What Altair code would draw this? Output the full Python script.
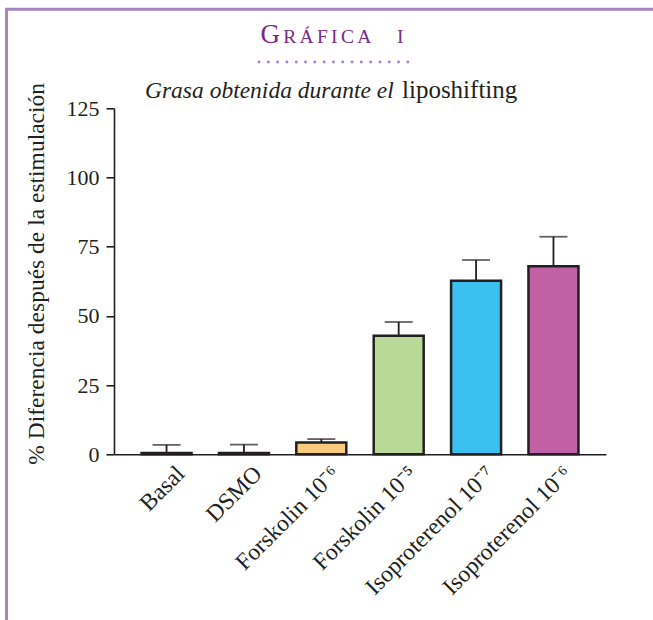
import altair as alt
import pandas as pd

# ---- data ----
categories = ["Basal", "DSMO", "Forskolin 10⁻⁶", "Forskolin 10⁻⁵",
              "Isoproterenol 10⁻⁷", "Isoproterenol 10⁻⁶"]
means = [0.5, 0.5, 4.3, 42.8, 62.7, 67.9]
upper = [3.4, 3.5, 5.5, 47.8, 70.2, 78.6]
bar_colors = ["#FFFFFF", "#FFFFFF", "#F9CB7C", "#B9DA96", "#3AC1EF", "#C160A4"]
y_ticks = [0, 25, 50, 75, 100, 125]

title_letters = ["G", "R", "Á", "F", "I", "C", "A", "I"]
title_x = [260.5, 283.3, 299.6, 317, 331.1, 340.9, 357.2, 397]
title_size = [27, 19.5, 19.5, 19.5, 19.5, 19.5, 19.5, 19.5]

subtitle_italic = "Grasa obtenida durante el"
subtitle_roman = "liposhifting"
y_title = "% Diferencia después de la estimulación"

FONT = "Liberation Serif"
INK = "#231F20"
PURPLE = "#7B2A85"
LILAC = "#A785C2"

# plot-area geometry (pixels in the 653x620 page)
X0, Y0 = 114.0, 108.3
X1, Y1 = 606.0, 454.3
W, H = X1 - X0, Y1 - Y0

df = pd.DataFrame({"cat": categories, "mean": means, "upper": upper})
one = pd.DataFrame({"k": [0]})

xenc = alt.X(
    "cat:N", sort=categories,
    scale=alt.Scale(paddingInner=0.354, paddingOuter=0.356),
    axis=alt.Axis(title=None, ticks=False, labelAngle=-45, labelAlign="right",
                  labelBaseline="top", labelPadding=7, labelOffset=6,
                  labelFontSize=23.5,
                  labelFont=FONT, labelColor=INK, labelOverlap=False, labelLimit=0,
                  domainColor=INK, domainWidth=1.6),
)
yscale = alt.Scale(domain=[0, 125], nice=False)
yaxis = alt.Axis(values=y_ticks, title=y_title, grid=False, tickSize=8, tickWidth=1.6,
                 tickColor=INK, domainColor=INK, domainWidth=1.6, labelFontSize=22,
                 labelFont=FONT, labelColor=INK, labelPadding=7,
                 titleFont=FONT, titleFontSize=23.5, titleFontWeight="normal",
                 titleColor=INK, titleAngle=270, titleX=-71, titleY=165,
                 titleAlign="center", titleBaseline="alphabetic")

err_rule = alt.Chart(df).mark_rule(color=INK, strokeWidth=1.8).encode(
    x=xenc, y=alt.Y("mean:Q", scale=yscale, axis=yaxis), y2="upper:Q")
err_cap = alt.Chart(df).mark_tick(color=INK, thickness=1.8, size=28).encode(
    x=xenc, y=alt.Y("upper:Q", scale=yscale, axis=yaxis))
bars = alt.Chart(df).mark_bar(stroke=INK, strokeWidth=2.5).encode(
    x=xenc, y=alt.Y("mean:Q", scale=yscale, axis=yaxis),
    color=alt.Color("cat:N", scale=alt.Scale(domain=categories, range=bar_colors),
                    legend=None))


def txt(t, x, y, size, color, style="normal", align="left"):
    return alt.Chart(one).mark_text(
        text=t, font=FONT, fontSize=size, color=color, fontStyle=style,
        align=align, baseline="alphabetic").encode(
        x=alt.value(x - X0), y=alt.value(y - Y0))


layers = [err_rule, err_cap, bars]

# frame
layers.append(alt.Chart(one).mark_rule(color=LILAC, strokeWidth=3).encode(
    x=alt.value(6.5 - X0), y=alt.value(8 - Y0), y2=alt.value(620 - Y0)))
layers.append(alt.Chart(one).mark_rule(color=LILAC, strokeWidth=3).encode(
    x=alt.value(5 - X0), x2=alt.value(653 - X0), y=alt.value(9.3 - Y0)))

# title (small caps emulation)
for ch, xx, sz in zip(title_letters, title_x, title_size):
    layers.append(txt(ch, xx, 43, sz, PURPLE))

# dotted rule under title
layers.append(alt.Chart(one).mark_rule(color="#A583C4", strokeWidth=2.8,
                                       strokeDash=[0.1, 9.2], strokeCap="round").encode(
    x=alt.value(259 - X0), x2=alt.value(412 - X0), y=alt.value(62 - Y0)))

# subtitle
layers.append(txt(subtitle_italic, 145, 98, 23.5, INK, style="italic"))
layers.append(txt(subtitle_roman, 402, 98, 25, INK))

chart = alt.layer(*layers).properties(
    width=W, height=H,
    autosize=alt.AutoSizeParams(type="none"),
    padding={"left": X0, "top": Y0, "right": 653 - X1, "bottom": 620 - Y1},
    background="white",
).configure_view(stroke=None)

chart.save("out.html", embed_options={"renderer": "svg", "actions": False})
